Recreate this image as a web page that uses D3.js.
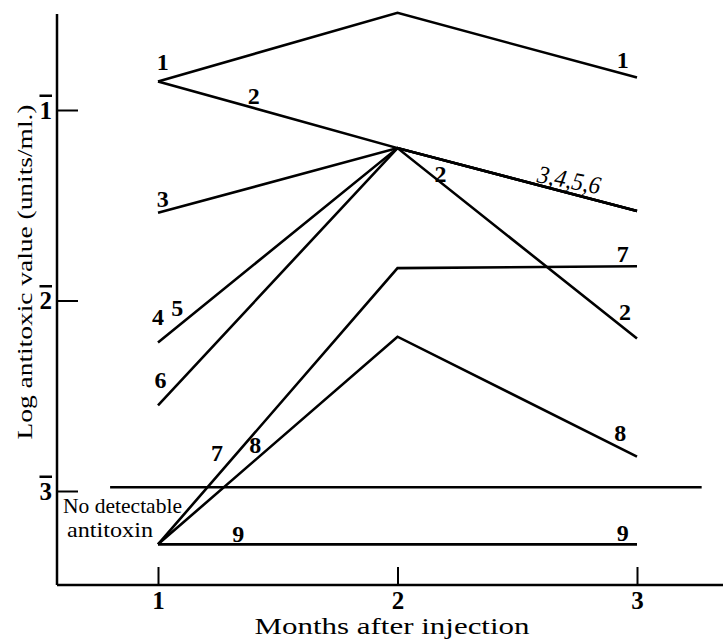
<!doctype html>
<html>
<head>
<meta charset="utf-8">
<title>Log antitoxic value</title>
<script src="https://d3js.org/d3.v7.min.js"></script>
<style>
body { margin: 0; background: white; }
svg text { fill: black; }
</style>
</head>
<body>
<div id="chart1"></div>
<script>
// months on the x axis
var months = [1, 2, 3];
// plotted level used for "no detectable antitoxin"
var ND = -3.28;
// detection limit line
var detectLimit = -2.98;
var detectSpan = [0.8, 3.27];

// log antitoxic values (bar notation: -1 = 1bar, -2 = 2bar ...)
var s1 = [-0.85, -0.49, -0.83];
var s2 = [-0.85, -1.20, -2.20];
var s3 = [-1.54, -1.20, -1.53];
var s45 = [-2.22, -1.20, -1.53];
var s6 = [-2.55, -1.20, -1.53];
var s7 = [ND, -1.83, -1.82];
var s8 = [ND, -2.19, -2.82];
var s9 = [ND, ND, ND];
var series = [s1, s2, s3, s45, s6, s7, s8, s9];

var yTicks = [-1, -2, -3];

// curve labels, in data units: [text, month, value]
var labels = [
  ["1", 1.02, -0.79], ["1", 2.94, -0.78],
  ["2", 1.40, -0.97],
  ["3", 1.02, -1.51],
  ["4", 1.00, -2.13], ["5", 1.08, -2.08],
  ["6", 1.01, -2.46],
  ["7", 1.246, -2.84], ["8", 1.406, -2.80],
  ["9", 1.335, -3.27], ["9", 2.94, -3.26],
  ["2", 2.18, -1.38],
  ["7", 2.94, -1.80],
  ["2", 2.95, -2.10],
  ["8", 2.93, -2.74]
];

var width = 723, height = 640;
var svg = d3.select("#chart1").append("svg")
  .attr("width", width)
  .attr("height", height);

var x = d3.scaleLinear().domain([1, 3]).range([158, 637]);
var y = d3.scaleLinear().domain([-1, -3]).range([110, 491]);

var axisX0 = 57, axisY0 = 585;
var numFont = "Liberation Serif, Times New Roman, serif";

// axis lines
svg.append("line")
  .attr("x1", axisX0).attr("x2", axisX0)
  .attr("y1", 14).attr("y2", axisY0)
  .attr("stroke", "black").attr("stroke-width", 2.5);
svg.append("line")
  .attr("x1", axisX0).attr("x2", width)
  .attr("y1", axisY0).attr("y2", axisY0)
  .attr("stroke", "black").attr("stroke-width", 2.5);

// y axis ticks
var gy = svg.append("g")
  .attr("transform", "translate(" + axisX0 + ",0)")
  .call(d3.axisLeft(y).tickValues(yTicks).tickSize(-21).tickPadding(5)
    .tickFormat(function(d) { return String(-d); }));
gy.select(".domain").remove();
gy.selectAll("line").attr("stroke", "black").attr("stroke-width", 2);
gy.selectAll("text")
  .attr("font-family", numFont).attr("font-size", 25)
  .attr("font-weight", "bold")
  .style("text-decoration", "overline");

// x axis ticks
var gx = svg.append("g")
  .attr("transform", "translate(0," + axisY0 + ")")
  .call(d3.axisBottom(x).tickValues(months).tickSize(-18).tickPadding(6)
    .tickFormat(d3.format("d")));
gx.select(".domain").remove();
gx.selectAll("line").attr("stroke", "black").attr("stroke-width", 2);
gx.selectAll("text")
  .attr("font-family", numFont).attr("font-size", 25)
  .attr("font-weight", "bold");

// axis titles
svg.append("text")
  .attr("x", 392).attr("y", 634)
  .attr("text-anchor", "middle")
  .attr("font-family", numFont).attr("font-size", 24)
  .attr("textLength", 275).attr("lengthAdjust", "spacingAndGlyphs")
  .text("Months after injection");

svg.append("text")
  .attr("transform", "translate(32,272) rotate(-90)")
  .attr("text-anchor", "middle")
  .attr("font-family", numFont).attr("font-size", 22)
  .attr("textLength", 335).attr("lengthAdjust", "spacingAndGlyphs")
  .text("Log antitoxic value (units/ml.)");

// detection limit
svg.append("line")
  .attr("x1", x(detectSpan[0])).attr("x2", x(detectSpan[1]))
  .attr("y1", y(detectLimit)).attr("y2", y(detectLimit))
  .attr("stroke", "black").attr("stroke-width", 2.5);

svg.append("text")
  .attr("x", 63).attr("y", 513)
  .attr("font-family", numFont).attr("font-size", 22)
  .attr("textLength", 119).attr("lengthAdjust", "spacingAndGlyphs")
  .text("No detectable");
svg.append("text")
  .attr("x", 67).attr("y", 537)
  .attr("font-family", numFont).attr("font-size", 22)
  .attr("textLength", 86).attr("lengthAdjust", "spacingAndGlyphs")
  .text("antitoxin");

// curves
var line = d3.line()
  .x(function(d, i) { return x(months[i]); })
  .y(function(d) { return y(d); });

svg.selectAll("path.curve")
  .data(series)
  .enter().append("path")
  .attr("class", "curve")
  .attr("d", line)
  .attr("fill", "none")
  .attr("stroke", "black")
  .attr("stroke-width", 2.6)
  .attr("stroke-linejoin", "miter");

// curve labels
svg.selectAll("text.lab")
  .data(labels)
  .enter().append("text")
  .attr("class", "lab")
  .attr("x", function(d) { return x(d[1]); })
  .attr("y", function(d) { return y(d[2]); })
  .attr("text-anchor", "middle")
  .attr("font-family", numFont).attr("font-size", 24)
  .attr("font-weight", "bold")
  .text(function(d) { return d[0]; });

// shared label for curves 3-6 along the late segment
svg.append("text")
  .attr("transform", "translate(" + x(2.71) + "," + y(-1.41) + ") rotate(11)")
  .attr("text-anchor", "middle")
  .attr("font-family", numFont).attr("font-size", 25)
  .attr("font-style", "italic")
  .attr("textLength", 64).attr("lengthAdjust", "spacingAndGlyphs")
  .text("3,4,5,6");
</script>
</body>
</html>
